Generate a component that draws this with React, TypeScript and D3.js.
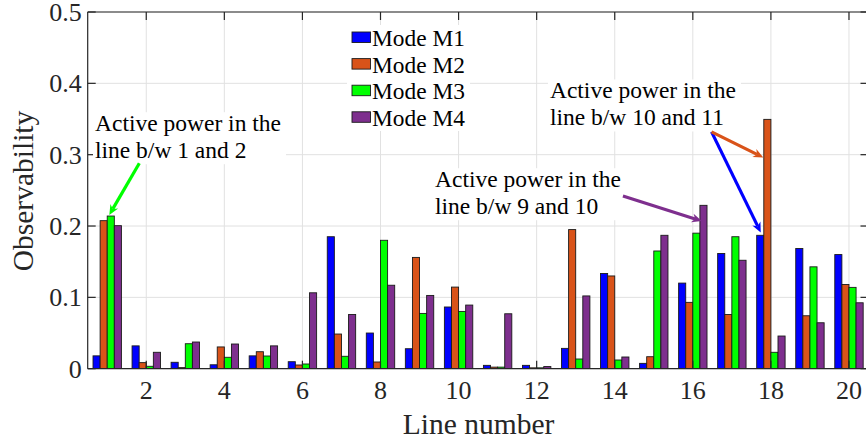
import React from "react";
import * as d3 from "d3";

// Observability of the four inter-area modes for each transmission line
const lines = d3.range(1, 21);
const modes = ["Mode M1", "Mode M2", "Mode M3", "Mode M4"];
const modeColors = ["#0000FF", "#D95319", "#00FF00", "#7E2F8E"];

const m1 = [0.018, 0.032, 0.009, 0.0055, 0.018, 0.0098, 0.185, 0.05, 0.028, 0.0865,
  0.0047, 0.0047, 0.0285, 0.1335, 0.0075, 0.12, 0.1615, 0.187, 0.1685, 0.16];
const m2 = [0.2075, 0.0085, 0.0015, 0.0305, 0.0238, 0.0052, 0.0486, 0.0094, 0.156, 0.1144,
  0.0022, 0.0012, 0.195, 0.13, 0.0168, 0.093, 0.076, 0.3495, 0.0742, 0.118];
const m3 = [0.214, 0.0034, 0.035, 0.016, 0.0178, 0.0066, 0.0174, 0.18, 0.0775, 0.0803,
  0.0022, 0.0012, 0.0136, 0.0122, 0.165, 0.19, 0.185, 0.023, 0.1428, 0.114];
const m4 = [0.2005, 0.023, 0.0374, 0.0346, 0.032, 0.1064, 0.076, 0.117, 0.1027, 0.0892,
  0.077, 0.003, 0.102, 0.0164, 0.187, 0.229, 0.152, 0.0458, 0.0644, 0.0924];
const series = [m1, m2, m3, m4];

const yTicks = [0, 0.1, 0.2, 0.3, 0.4, 0.5];
const xTicks = [2, 4, 6, 8, 10, 12, 14, 16, 18, 20];

// Text callouts (anchor in data units: line number, observability)
const notes = [
  { x: 0.687, y: 0.3336, text: ["Active power in the", "line b/w 1 and 2"] },
  { x: 9.396, y: 0.2551, text: ["Active power in the", "line b/w 9 and 10"] },
  { x: 12.34, y: 0.3795, text: ["Active power in the", "line b/w 10 and 11"] },
];
const arrows = [
  { from: [1.822, 0.288], to: [1.053, 0.2155], color: "#00FF00" },
  { from: [14.21, 0.242], to: [16.23, 0.207], color: "#7E2F8E" },
  { from: [16.48, 0.332], to: [17.74, 0.191], color: "#0000FF" },
  { from: [16.48, 0.332], to: [17.805, 0.296], color: "#D95319" },
];

const W = 866;
const H = 441;
const FONT = "'Liberation Serif', 'Times New Roman', serif";
const AX = "#262626";
const GRID = "#e1e1e1";

export default function App() {
  const left = 87.7;
  const right = 868.5;
  const top = 12;
  const bottom = 368.7;

  const x = d3.scaleLinear().domain([0.5, 20.5]).range([left, right]);
  const y = d3.scaleLinear().domain([0, 0.5]).range([bottom, top]);
  const groupW = 4 / 5.5;
  const sub = d3.scaleBand<number>().domain([0, 1, 2, 3]).range([-groupW / 2, groupW / 2]);
  const barW = x(sub.bandwidth()) - x(0);

  const tick = 8;
  const annFont = 23.5;
  const lineGap = 27.5;

  return (
    <svg width={W} height={H} style={{ position: "absolute", left: 0, top: 0, background: "#fff" }}
      fontFamily={FONT}>
      <defs>
        <clipPath id="plotclip">
          <rect x={left} y={top} width={right - left} height={bottom - top} />
        </clipPath>
      </defs>
      {/* grid */}
      <g stroke={GRID} strokeWidth={1}>
        {yTicks.map((t) => (
          <line key={"gy" + t} x1={left} x2={right} y1={y(t)} y2={y(t)} />
        ))}
        {xTicks.map((t) => (
          <line key={"gx" + t} x1={x(t)} x2={x(t)} y1={top} y2={bottom} />
        ))}
      </g>
      {/* bars */}
      <g clipPath="url(#plotclip)">
        {series.map((vals, si) =>
          vals.map((v, i) => {
            const x0 = x(lines[i] + (sub(si) as number));
            return (
              <rect key={si + "-" + i} x={x0} y={y(v)} width={barW} height={y(0) - y(v)}
                fill={modeColors[si]} stroke="#1a1a1a" strokeWidth={0.9} />
            );
          })
        )}
      </g>
      {/* axes box and ticks */}
      <g stroke={AX} strokeWidth={1.2} fill="none">
        <line x1={left} x2={right} y1={top} y2={top} />
        <line x1={left} x2={right} y1={bottom} y2={bottom} />
        <line x1={left} x2={left} y1={top} y2={bottom} />
        <line x1={right} x2={right} y1={top} y2={bottom} />
        {yTicks.map((t) => (
          <g key={"ty" + t}>
            <line x1={left} x2={left + tick} y1={y(t)} y2={y(t)} />
            <line x1={right} x2={right - tick} y1={y(t)} y2={y(t)} />
          </g>
        ))}
        {xTicks.map((t) => (
          <g key={"tx" + t}>
            <line x1={x(t)} x2={x(t)} y1={top} y2={top + tick} />
            <line x1={x(t)} x2={x(t)} y1={bottom} y2={bottom - tick} />
          </g>
        ))}
      </g>
      {/* tick labels */}
      <g fill={AX} fontSize={26}>
        {yTicks.map((t) => (
          <text key={"ly" + t} x={left - 6} y={y(t) + 9} textAnchor="end">
            {d3.format("~g")(t)}
          </text>
        ))}
        {xTicks.map((t) => (
          <text key={"lx" + t} x={x(t)} y={399} textAnchor="middle">
            {t}
          </text>
        ))}
      </g>
      {/* axis titles */}
      <text x={(left + 868.5) / 2 + 0.5} y={434} textAnchor="middle" fontSize={29.5} fill={AX}>
        Line number
      </text>
      <text transform={`translate(33, 191) rotate(-90)`} textAnchor="middle" fontSize={29.5} fill={AX}>
        Observability
      </text>
      {/* legend */}
      <g>
        <rect x={347} y={25} width={123} height={106} fill="#fff" />
        {modes.map((m, i) => (
          <g key={m} transform={`translate(0, ${i * 26.6})`}>
            <rect x={352} y={32} width={18.5} height={10.5} fill={modeColors[i]} stroke="#1a1a1a" strokeWidth={0.9} />
            <text x={372} y={46} fontSize={23.4} fill="#000">{m}</text>
          </g>
        ))}
      </g>
      {/* callout text */}
      {notes.map((n, k) => {
        const tx = x(n.x);
        const ty = y(n.y);
        return (
          <g key={"n" + k}>
            <rect x={tx - 2} y={ty - 18.5} width={193} height={lineGap + 24.5} fill="#fff" />
            {n.text.map((s, j) => (
              <text key={j} x={tx} y={ty + j * lineGap} fontSize={annFont} fill="#000">{s}</text>
            ))}
          </g>
        );
      })}
      {/* callout arrows */}
      {arrows.map((a, k) => {
        const x1 = x(a.from[0]);
        const y1 = y(a.from[1]);
        const x2 = x(a.to[0]);
        const y2 = y(a.to[1]);
        const ang = Math.atan2(y2 - y1, x2 - x1);
        const hl = 10;
        const hw = 4.5;
        const ca = Math.cos(ang);
        const sa = Math.sin(ang);
        const pt = (along: number, across: number) =>
          [x2 + along * ca - across * sa, y2 + along * sa + across * ca].join(",");
        const head = [pt(0, 0), pt(-hl, hw), pt(-hl * 0.7, 0), pt(-hl, -hw)].join(" ");
        return (
          <g key={"a" + k}>
            <line x1={x1} y1={y1} x2={x2 - hl * 0.7 * ca} y2={y2 - hl * 0.7 * sa}
              stroke={a.color} strokeWidth={3.2} />
            <polygon points={head} fill={a.color} />
          </g>
        );
      })}
    </svg>
  );
}
